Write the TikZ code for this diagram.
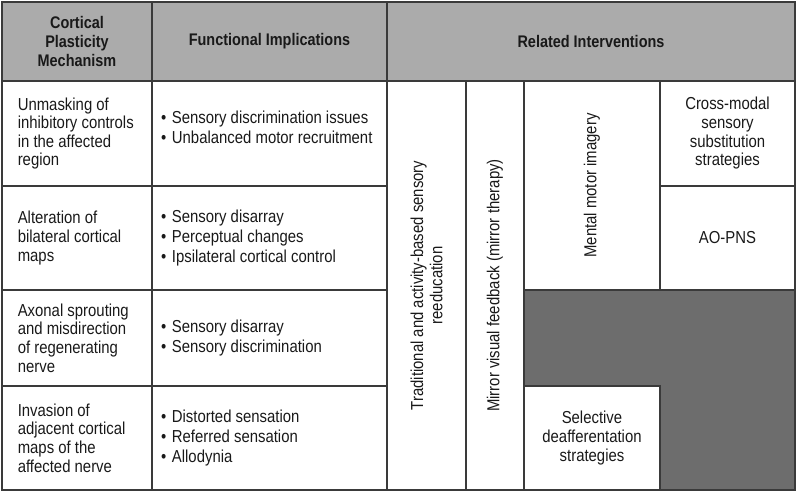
\documentclass[tikz,border=0pt]{standalone}
\usepackage{fontspec}
\setmainfont{Liberation Sans}[FakeStretch=0.86]
\usepackage{xcolor}
\usepackage{tikz}
\definecolor{headgray}{HTML}{ABABAB}
\definecolor{shadegray}{HTML}{6D6D6D}
\definecolor{rulegray}{HTML}{3A3A3A}
\newcommand{\bul}{\textbullet\hspace{4.2pt}}

\begin{document}
\begin{tikzpicture}[x=0.75pt,y=-0.75pt,
	cell/.style={rectangle,draw=rulegray,line width=1.4pt,inner sep=0pt},
	sz/.style 2 args={minimum width=#1*0.75pt,minimum height=#2*0.75pt},
	txt/.style={text=black!90,font={\fontsize{13}{14.5}\selectfont}},
	head/.style={cell,fill=headgray,text=black!90,align=center,font={\fontsize{12.6}{14.6}\selectfont\bfseries}}]
	
	\useasboundingbox (0,0) rectangle (800,493);
	
	% header
	\node[head,sz={150}{79}] (h1) at (77,41.5) {Cortical\\Plasticity\\Mechanism};
	\node[head,sz={235}{79}] (h2) at (269.5,41.5) {Functional Implications};
	\node[head,sz={408}{79}] (h3) at (591,41.5) {Related Interventions};
	
	\foreach \i/\y/\h in {1/133.5/105,2/238/104,3/338/96,4/438/104}{
		\node[cell,sz={150}{\h}] (m\i) at (77,\y){};
		\node[cell,sz={235}{\h}] (f\i) at (269.5,\y){};
	}
	
	\foreach \i/\name in {1/{Unmasking of\\inhibitory controls\\in the affected\\region},
		2/{Alteration of\\bilateral cortical\\maps},
		3/{Axonal sprouting\\and misdirection\\of regenerating\\nerve},
		4/{Invasion of\\adjacent cortical\\maps of the\\affected nerve}}{
		\node[txt,anchor=west,align=left,font={\fontsize{13}{13.9}\selectfont}] 
		(mt\i) at ([xshift=9pt]m\i.west){\name};
	}
	
	\foreach \i/\name/\dy in {1/{\bul Sensory discrimination issues\\\bul Unbalanced motor recruitment}/4.5,
		2/{\bul Sensory disarray\\\bul Perceptual changes\\\bul Ipsilateral cortical control}/0,
		3/{\bul Sensory disarray\\\bul Sensory discrimination}/0,
		4/{\bul Distorted sensation\\\bul Referred sensation\\\bul Allodynia}/0}{
		\node[txt,anchor=west,align=left,font={\fontsize{13}{15}\selectfont}] 
		(ft\i) at ([xshift=4pt,yshift=\dy pt]f\i.west){\name};
	}
	
	% interventions
	\node[cell,txt,rotate=90,align=center,sz={409}{79}] (trad) at (426.5,285.5)
		{Traditional and activity-based sensory\\reeducation};
	\node[cell,txt,rotate=90,sz={409}{58}] (mirror) at (495,285.5)
		{Mirror visual feedback (mirror therapy)};
	\node[cell,txt,rotate=90,sz={209}{136}] (mental) at (592,185.5) {Mental motor imagery};
	\node[cell,txt,align=center,font={\fontsize{13}{14}\selectfont},sz={135}{105}] (cross) at (727.5,133.5)
		{Cross-modal\\sensory\\substitution\\strategies};
	\node[cell,txt,sz={135}{104}] (aopns) at (727.5,238) {AO-PNS};
	\node[cell,txt,align=center,sz={136}{104}] (select) at (592,438)
		{Selective\\deafferentation\\strategies};
	
	% shaded block
	\draw[draw=rulegray,line width=1.4pt,fill=shadegray] 
		(524,290)--(795,290)--(795,490)--(660,490)--(660,386)--(524,386)--cycle;
\end{tikzpicture}
\end{document}
